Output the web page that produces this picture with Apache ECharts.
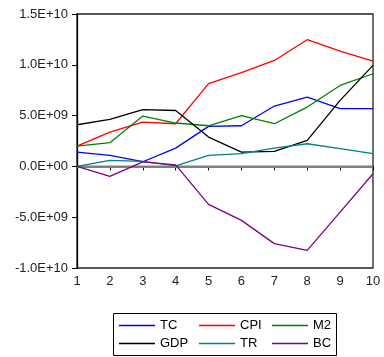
<!DOCTYPE html>
<html>
<head>
<meta charset="utf-8">
<script src="https://cdn.jsdelivr.net/npm/echarts@6/dist/echarts.min.js"></script>
<style>html,body{margin:0;padding:0;background:#fff;}#c{width:384px;height:357px;}</style>
</head>
<body>
<div id="c"></div>
<script>
const categories = ['1','2','3','4','5','6','7','8','9','10'];
const TC  = [1.40e9, 1.08e9, 0.46e9, 1.80e9, 3.94e9, 4.00e9, 5.94e9, 6.82e9, 5.68e9, 5.68e9];
const CPI = [2.00e9, 3.38e9, 4.36e9, 4.20e9, 8.14e9, 9.22e9, 10.43e9, 12.47e9, 11.35e9, 10.37e9];
const M2  = [2.00e9, 2.33e9, 4.95e9, 4.27e9, 4.00e9, 4.99e9, 4.20e9, 5.84e9, 7.97e9, 9.12e9];
const GDP = [4.10e9, 4.63e9, 5.58e9, 5.50e9, 2.89e9, 1.41e9, 1.48e9, 2.56e9, 6.50e9, 9.94e9];
const TR  = [0.00e9, 0.59e9, 0.50e9, 0.05e9, 1.08e9, 1.25e9, 1.80e9, 2.23e9, 1.74e9, 1.25e9];
const BC  = [0.00e9, -0.98e9, 0.45e9, 0.15e9, -3.74e9, -5.31e9, -7.60e9, -8.27e9, -4.50e9, -0.72e9];
const yTicks = {min: -1e10, max: 1.5e10, interval: 5e9};

function fmt(v){
  if (v === 0) return '0.0E+00';
  const s = v.toExponential(1).toUpperCase();
  return s.replace(/E([+-])(\d)$/, 'E$10$2');
}
const font = 'Liberation Sans, Arial, sans-serif';
const chart = echarts.init(document.getElementById('c'), null, {renderer:'canvas'});
const mk = (name, data, color, extra) => Object.assign({
  name, type:'line', data, symbol:'none', showSymbol:false,
  lineStyle:{color, width:1.3}, itemStyle:{color}, color, animation:false, z:3
}, extra||{});
const legendBase = {
  orient:'vertical', top:318, itemGap:3, itemWidth:36, itemHeight:1.4, icon:'rect',
  textStyle:{fontFamily:font, fontSize:13, color:'#000', lineHeight:15},
  padding:0, selectedMode:false
};
chart.setOption({
  animation:false,
  backgroundColor:'#fff',
  grid:{left:77, top:14, right:11, bottom:89, show:true, borderColor:'#222', borderWidth:1.3, backgroundColor:'transparent'},
  xAxis:{
    type:'category', data:categories, boundaryGap:false,
    axisLine:{lineStyle:{color:'#000', width:1.3}},
    axisTick:{show:true, length:4, inside:false, alignWithLabel:true, lineStyle:{color:'#000'}},
    axisLabel:{fontFamily:font, fontSize:13, color:'#222', margin:7, showMinLabel:true, showMaxLabel:true, interval:0},
    splitLine:{show:false}
  },
  yAxis:{
    type:'value', min:yTicks.min, max:yTicks.max, interval:yTicks.interval,
    axisLine:{show:true, lineStyle:{color:'#000', width:1.3}},
    axisTick:{show:true, length:5, lineStyle:{color:'#000'}},
    axisLabel:{fontFamily:font, fontSize:13, color:'#222', margin:9, formatter:fmt},
    splitLine:{show:false}
  },
  legend:[
    Object.assign({left:119, data:['TC','GDP']}, legendBase),
    Object.assign({left:199, data:['CPI','TR']}, legendBase),
    Object.assign({left:272, data:['M2','BC']}, legendBase)
  ],
  graphic:[{type:'rect', shape:{x:113.5, y:313.5, width:223, height:42}, style:{fill:'none', stroke:'#000', lineWidth:1}, silent:true}],
  series:[
    mk('TC', TC, '#0000ff', {markLine:{silent:true, symbol:'none', label:{show:false}, lineStyle:{color:'#808080', width:2, type:'solid'}, data:[{yAxis:0}], z:2}}),
    mk('CPI', CPI, '#ff0000'),
    mk('M2', M2, '#008000'),
    mk('GDP', GDP, '#000000'),
    mk('TR', TR, '#008080'),
    mk('BC', BC, '#800080')
  ]
});
</script>
</body>
</html>
